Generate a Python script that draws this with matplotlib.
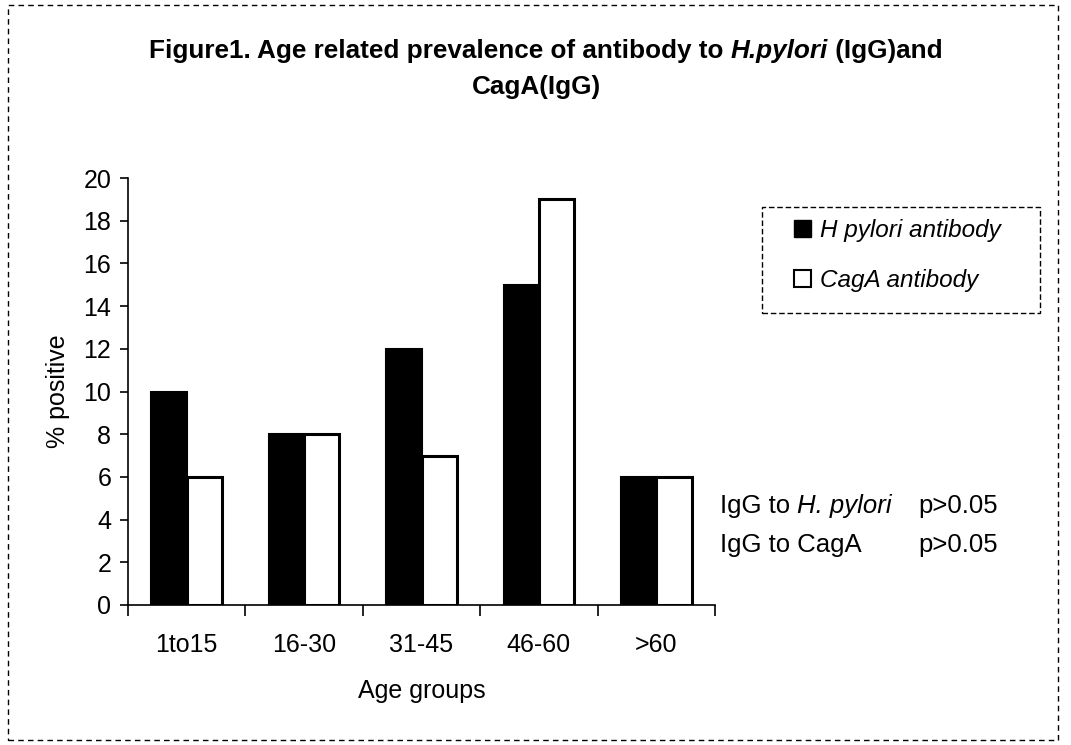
import matplotlib
matplotlib.use("Agg")
import matplotlib.pyplot as plt
from matplotlib.patches import Rectangle, Patch
import numpy as np

categories = ["1to15", "16-30", "31-45", "46-60", ">60"]
hpylori = [10, 8, 12, 15, 6]
caga = [6, 8, 7, 19, 6]
yticks = [0, 2, 4, 6, 8, 10, 12, 14, 16, 18, 20]
series_labels = ["H pylori antibody", "CagA antibody"]

plt.rcParams['font.family'] = ['Liberation Sans', 'DejaVu Sans']

W, H = 1071, 745
fig = plt.figure(figsize=(W / 100, H / 100), dpi=100)
ax = fig.add_axes([128 / W, 1 - 605 / H, (715 - 128) / W, (605 - 178) / H])

x = np.arange(len(categories))
w = 0.3
ax.bar(x - w / 2, hpylori, width=w, color='black', edgecolor='black', linewidth=1.5)
ax.bar(x + w / 2, caga, width=w, color='white', edgecolor='black', linewidth=2.2)

ax.set_xlim(-0.5, len(categories) - 0.5)
ax.set_ylim(0, 20)
ax.set_yticks(yticks)
ax.set_yticklabels([str(v) for v in yticks], fontsize=18)
ax.set_xticks(np.arange(len(categories) + 1) - 0.5)
ax.set_xticklabels([])
ax.set_xticks(x, minor=True)
ax.set_xticklabels(categories, minor=True, fontsize=18)
ax.tick_params(axis='x', which='major', length=8, width=1.2, direction='out')
ax.tick_params(axis='x', which='minor', length=0, pad=20)
ax.tick_params(axis='y', length=6, width=1.2, direction='out', pad=6)
for s in ['top', 'right']:
    ax.spines[s].set_visible(False)
ax.spines['left'].set_linewidth(1.2)
ax.spines['bottom'].set_linewidth(1.2)

ax.set_ylabel('% positive', fontsize=18, labelpad=10)
ax.set_xlabel('Age groups', fontsize=18, labelpad=16)

renderer = fig.canvas.get_renderer()


def rich_line(pieces, x_px, y_px, fontsize, align='center'):
    texts = []
    widths = []
    for s, kw in pieces:
        t = fig.text(0, 0, s, fontsize=fontsize, va='center', ha='left', **kw)
        widths.append(t.get_window_extent(renderer).width)
        texts.append(t)
    total = sum(widths)
    start = x_px - total / 2 if align == 'center' else x_px
    cur = start
    for t, wd in zip(texts, widths):
        t.set_position((cur / W, 1 - y_px / H))
        cur += wd


# Title
rich_line([("Figure1. Age related prevalence of antibody to ", dict(fontweight='bold')),
           ("H.pylori", dict(fontweight='bold', style='italic')),
           (" (IgG)and", dict(fontweight='bold'))], 546, 51, 18.8)
rich_line([("CagA(IgG)", dict(fontweight='bold'))], 536, 87, 18.8)

# Legend
fig.patches.append(Rectangle((762 / W, 1 - 313 / H), (1040 - 762) / W, (313 - 207) / H,
                             transform=fig.transFigure, fill=False, edgecolor='black',
                             linewidth=1, linestyle=(0, (4, 2))))
handles = [Patch(facecolor='black', edgecolor='black'),
           Patch(facecolor='white', edgecolor='black', linewidth=1.5)]
leg = fig.legend(handles, series_labels,
                 loc='upper left', bbox_to_anchor=(794 / W, 1 - 219 / H),
                 prop={'size': 17.5, 'style': 'italic'}, frameon=False,
                 handlelength=0.7, handleheight=0.7, handletextpad=0.35,
                 labelspacing=1.1, borderpad=0, borderaxespad=0)

# Annotation
rich_line([("IgG to ", {}), ("H. pylori", dict(style='italic'))], 720, 506, 18.5, align='left')
rich_line([("p>0.05", {})], 918, 506, 18.5, align='left')
rich_line([("IgG to CagA", {})], 720, 545, 18.5, align='left')
rich_line([("p>0.05", {})], 918, 545, 18.5, align='left')

# Outer dashed frame
fig.patches.append(Rectangle((8 / W, 5 / H), 1050 / W, 735 / H, transform=fig.transFigure,
                             fill=False, edgecolor='black', linewidth=1, linestyle=(0, (4, 3))))

fig.savefig('out.png', dpi=100)
